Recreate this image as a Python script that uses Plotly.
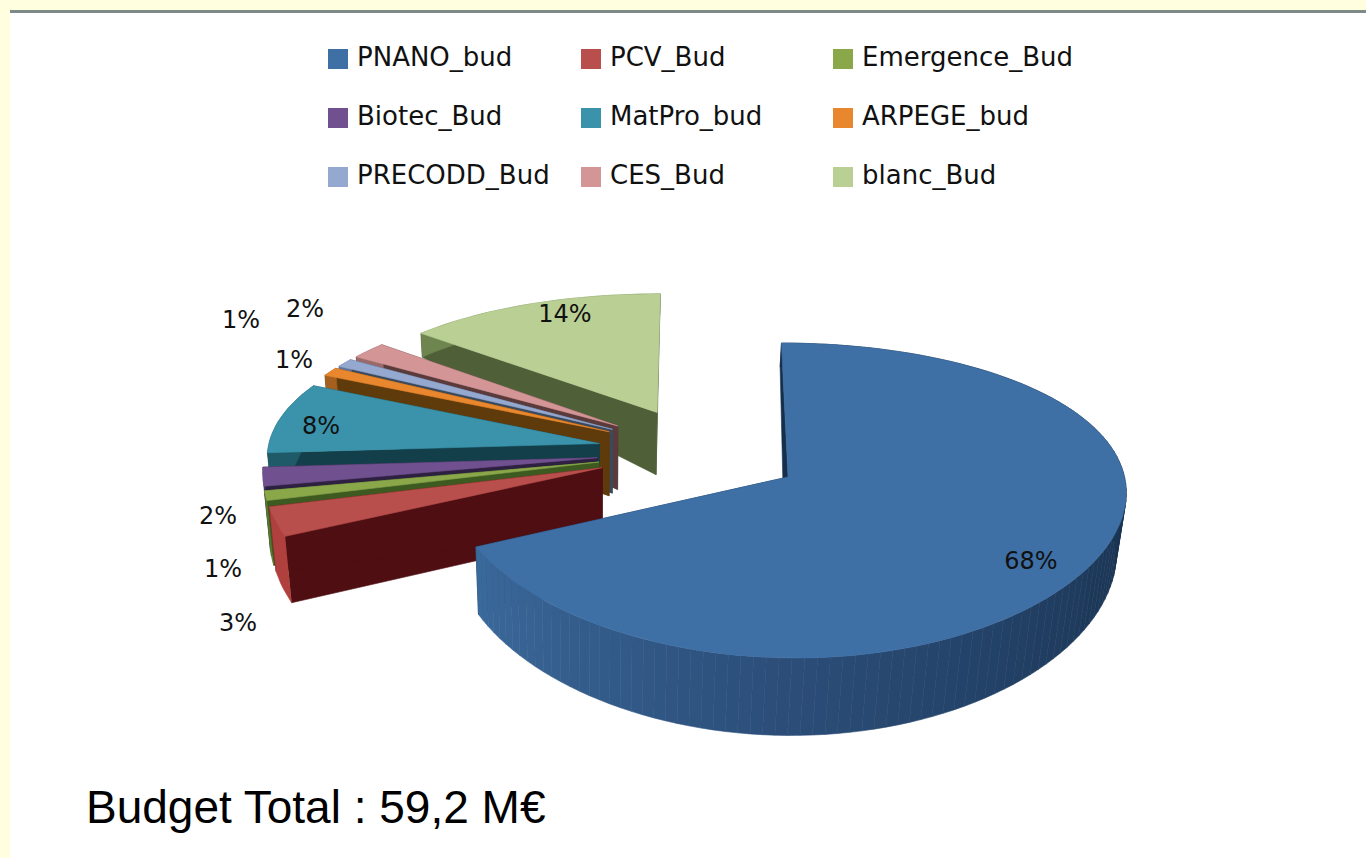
import numpy as np
import plotly.graph_objects as go

categories = ["PNANO_bud", "PCV_Bud", "Emergence_Bud", "Biotec_Bud", "MatPro_bud",
              "ARPEGE_bud", "PRECODD_Bud", "CES_Bud", "blanc_Bud"]
percent = [68, 3, 1, 2, 8, 1, 1, 2, 14]
total_label = "Budget Total : 59,2 M€"

top_colors = ["#3e6fa5", "#b94f4c", "#8aa84a", "#71508f", "#3a93ab", "#e8872e", "#94a8d0", "#d39595", "#b9cf94"]
wall_colors = ["#14304c", "#4f0f12", "#3d5a20", "#2e2040", "#123f4a", "#5f3a0a", "#3a4a5e", "#5a3a3a", "#4f5f38"]
rim_colors = ["#2b4d78", "#b0403e", "#5a7a30", "#4a3468", "#1f5a68", "#a5601f", "#62759a", "#9a6a6a", "#6f8550"]

label_x = [1031, 238, 223, 218, 321, 294, 241, 305, 565]
label_y = [563, 625, 571, 518, 428, 362, 322, 311, 316]
legend_x = [338, 591, 843]
legend_y = [59, 118, 177]

CX, CY, RX, RY, KX, KY, EXPLODE = 700, 452, 332, 146.6, 0.08, 0.146, 0.31
DEPTH_V = [-1.3, -0.9, -0.6, -0.3, -0.14, 0.45, 1.2]
DEPTH_PX = [20, 24, 24, 62, 64, 65, 78]


def project(u, v):
    return CX + RX * u / (1 - KX * v), CY + RY * v / (1 - KY * v)


def drop(x, y, v):
    d = np.interp(v, DEPTH_V, DEPTH_PX)
    return x + (600 - x) * 0.02 * d / 65, y + d


def poly(fig, xs, ys, color, name=None):
    fig.add_trace(go.Scatter(x=list(xs), y=list(ys), mode="lines", fill="toself", fillcolor=color,
                             line=dict(color=color, width=0.6), showlegend=False,
                             name=name or "", hoverinfo="name" if name else "skip"))


def mix(a, b, t):
    ca = [int(a[i:i + 2], 16) for i in (1, 3, 5)]
    cb = [int(b[i:i + 2], 16) for i in (1, 3, 5)]
    return "rgb(%d,%d,%d)" % tuple(round(p + (q - p) * t) for p, q in zip(ca, cb))


fig = go.Figure()
edges = np.concatenate([[0], np.cumsum(percent)]) * 3.6
for i in range(len(percent) - 1, -1, -1):
    a0, a1 = np.radians(edges[i]), np.radians(edges[i + 1])
    mid = (a0 + a1) / 2
    au, av = EXPLODE * np.sin(mid), -EXPLODE * np.cos(mid)
    th = np.linspace(a0, a1, max(3, int(percent[i] * 3.6 / 2) + 1))
    u, v = au + np.sin(th), av - np.cos(th)
    ax, ay = project(au, av)
    px_, py_ = project(u, v)
    abx, aby = drop(ax, ay, av)
    bx, by = drop(px_, py_, v)
    # straight side walls
    poly(fig, [ax, px_[0], bx[0], abx, ax], [ay, py_[0], by[0], aby, ay], wall_colors[i])
    poly(fig, [ax, px_[-1], bx[-1], abx, ax], [ay, py_[-1], by[-1], aby, ay], wall_colors[i])
    # rim
    if i == 0:
        for k in range(len(th) - 1):
            deg = np.degrees(th[k])
            c = mix("#17304c", "#2b4d78", np.clip((deg - 90) / 90, 0, 1)) if deg < 180 else mix("#2b4d78", "#3b6a9c", (deg - 180) / 65)
            poly(fig, [px_[k], px_[k + 1], bx[k + 1], bx[k], px_[k]],
                 [py_[k], py_[k + 1], by[k + 1], by[k], py_[k]], c)
    else:
        poly(fig, list(px_) + list(bx[::-1]), list(py_) + list(by[::-1]), rim_colors[i])
    # top surface
    poly(fig, [ax] + list(px_) + [ax], [ay] + list(py_) + [ay], top_colors[i], categories[i])

fig.add_trace(go.Scatter(x=label_x, y=label_y, mode="text", text=[f"{p}%" for p in percent],
                         textfont=dict(family="DejaVu Sans", size=24, color="#111"),
                         showlegend=False, hoverinfo="skip"))

lx = [legend_x[j % 3] for j in range(9)]
ly = [legend_y[j // 3] for j in range(9)]
fig.add_trace(go.Scatter(x=lx, y=ly, mode="markers",
                         marker=dict(symbol="square", size=20, color=top_colors, line=dict(width=0)),
                         showlegend=False, hoverinfo="skip"))
fig.add_trace(go.Scatter(x=[x + 19 for x in lx], y=ly, mode="text", text=categories, textposition="middle right",
                         textfont=dict(family="DejaVu Sans", size=26, color="#111"),
                         showlegend=False, hoverinfo="skip"))
fig.add_trace(go.Scatter(x=[86], y=[811], mode="text", text=[total_label], textposition="middle right",
                         textfont=dict(family="Liberation Sans", size=46, color="#000"),
                         showlegend=False, hoverinfo="skip"))

fig.update_layout(
    width=1366, height=858, margin=dict(l=0, r=0, t=0, b=0),
    paper_bgcolor="#ffffe0", plot_bgcolor="#ffffe0", showlegend=False,
    xaxis=dict(range=[0, 1366], visible=False, fixedrange=True),
    yaxis=dict(range=[858, 0], visible=False, fixedrange=True),
    shapes=[
        dict(type="rect", layer="below", x0=10, x1=1366, y0=10, y1=858, fillcolor="#ffffff", line_width=0),
        dict(type="rect", layer="below", x0=10, x1=1366, y0=10, y1=13, fillcolor="#7e8a88", line_width=0),
    ],
)
fig.write_html("out.html", config={"displayModeBar": False},
               post_script="document.body.style.margin='0';document.documentElement.style.overflow='hidden';")
